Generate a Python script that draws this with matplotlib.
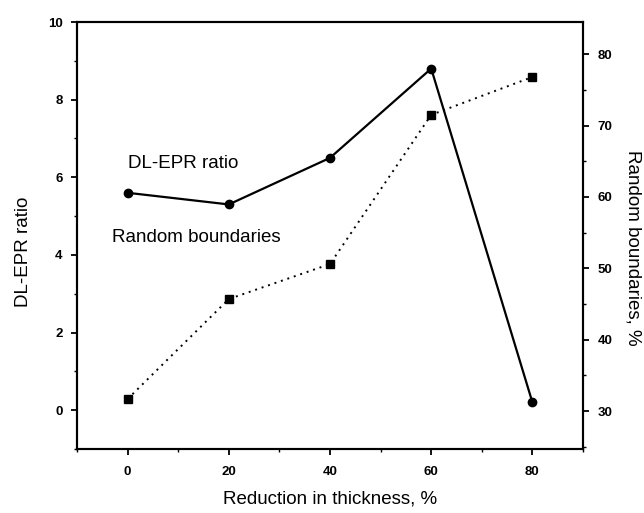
import matplotlib
matplotlib.use("Agg")
import matplotlib.pyplot as plt
from matplotlib.ticker import MultipleLocator

plt.rcParams['font.family'] = ['Liberation Sans', 'DejaVu Sans']

reduction = [0, 20, 40, 60, 80]
dl_epr_ratio = [5.6, 5.3, 6.5, 8.8, 0.2]
random_boundaries = [31.7, 45.7, 50.6, 71.5, 76.8]

fig = plt.figure(figsize=(6.44, 5.13), dpi=100)
ax = fig.add_axes([0.1196, 0.1248, 0.7857, 0.8323])
ax2 = ax.twinx()

ax.plot(reduction, dl_epr_ratio, color='black', lw=1.6, marker='o', ms=6, zorder=3)
ax2.plot(reduction, random_boundaries, color='black', lw=1.4, ls=(0, (1, 2.5)),
         marker='s', ms=5.5, zorder=3)

ax.set_xlim(-10, 90)
ax.set_ylim(-1, 10)
ax2.set_ylim(24.7, 84.5)

ax.xaxis.set_major_locator(MultipleLocator(20))
ax.xaxis.set_minor_locator(MultipleLocator(10))
ax.yaxis.set_major_locator(MultipleLocator(2))
ax.yaxis.set_minor_locator(MultipleLocator(1))
ax2.yaxis.set_major_locator(MultipleLocator(10))
ax2.yaxis.set_minor_locator(MultipleLocator(5))

for a in (ax, ax2):
    for s in a.spines.values():
        s.set_linewidth(1.5)
    a.tick_params(which='major', direction='out', length=4, width=1.3,
                  labelsize=9.5, pad=6.5)
    a.tick_params(which='minor', direction='out', length=2.5, width=1.0)
ax.tick_params(axis='x', which='both', top=False)
ax.tick_params(axis='x', which='major', pad=8)
for lab in ax.get_xticklabels() + ax.get_yticklabels() + ax2.get_yticklabels():
    lab.set_fontweight('bold')

ax.set_xlabel('Reduction in thickness, %', fontsize=13.5, labelpad=9)
ax.set_ylabel('DL-EPR ratio', fontsize=13.5, labelpad=10)
ax.yaxis.set_label_coords(-0.088, 0.461)
ax2.set_ylabel('Random boundaries, %', fontsize=13.5, rotation=-90, labelpad=20)
ax2.yaxis.set_label_coords(1.115, 0.47)

ax.text(0, 6.35, 'DL-EPR ratio', fontsize=13.5, ha='left', va='center')
ax.text(-3, 4.45, 'Random boundaries', fontsize=13.5, ha='left', va='center')

fig.savefig('out.png', dpi=100)
